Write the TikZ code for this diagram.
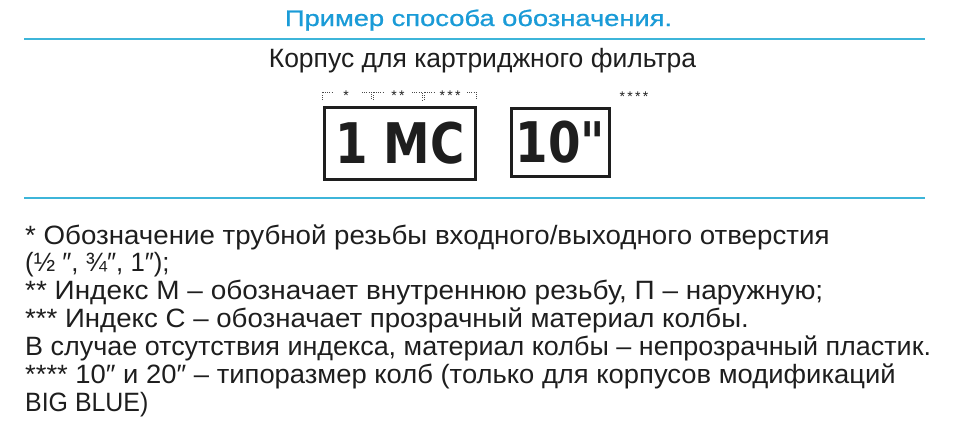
\documentclass[tikz,border=0pt]{standalone}
\usepackage{fontspec}
\usepackage{graphicx}
\setmainfont{Liberation Sans}
\newfontfamily\boxfont{DejaVu Sans}
\newfontfamily\titlefont{Liberation Sans}[FakeBold=0.8]
\newcommand\sxline[2]{\scalebox{#1}[1]{#2}}
\definecolor{titleblue}{HTML}{1A9BD7}
\definecolor{lineblue}{HTML}{3DB5D9}
\definecolor{txt}{HTML}{1E1E1E}
\tikzset{
  blueline/.style={draw=lineblue, line width=2pt},
  codebox/.style={draw=txt, line width=3pt, inner sep=0pt, text=txt,
    font=\boxfont\bfseries\fontsize{56}{58}\selectfont},
  brk/.style={draw=txt!80, line width=1pt, dash pattern=on 1pt off 1.2pt},
  starlbl/.style={text=txt, inner sep=0pt, font=\fontsize{14}{14}\selectfont},
  bodyline/.style={anchor=base west, inner sep=0pt, text=txt, font=\fontsize{26.5}{28}\selectfont},
}
\begin{document}
\begin{tikzpicture}[x=1pt,y=-1pt]
\useasboundingbox (0,0) rectangle (955,447);
\node[anchor=base, inner sep=0pt, text=titleblue, font=\titlefont\fontsize{22.5}{24}\selectfont] (title) at (478.5,26) {\resizebox{387pt}{\height}{Пример способа обозначения.}};
\draw[blueline] (24,39) coordinate (l1a) -- (925,39) coordinate (l1b);
\node[anchor=base, inner sep=0pt, text=txt, font=\fontsize{26.5}{28}\selectfont] (sub) at (482.5,67) {Корпус для картриджного фильтра};
% boxes
\node[codebox, minimum width=151pt, minimum height=72pt] (box1) at (400,143.5) {\scalebox{0.835}[1]{1 MC}};
\node[codebox, minimum width=98pt, minimum height=68pt] (box2) at (560.5,142.5) {\scalebox{0.835}[1]{10"}};
% brackets
\draw[brk] (322,100) -- (322,92) -- (332,92);
\draw[brk] (362,92) -- (371,92) -- (371,100);
\draw[brk] (373,100) -- (373,92) -- (383,92);
\draw[brk] (412,92) -- (422,92) -- (422,100);
\draw[brk] (424,100) -- (424,92) -- (434,92);
\draw[brk] (467,92) -- (476,92) -- (476,100);
\node[starlbl] (s1) at (346,96) {*};
\node[starlbl] (s2) at (398,96) {*\,*};
\node[starlbl] (s3) at (450,96) {*\,*\,*};
\node[starlbl] (s4) at (634,97) {*\,*\,*\,*};
\draw[blueline] (24,198) coordinate (l2a) -- (925,198) coordinate (l2b);
% body
\node[bodyline] (t1) at (25,244) {\sxline{1.045}{* Обозначение трубной резьбы входного/выходного отверстия}};
\node[bodyline] (t2) at (25,271) {\sxline{0.97}{(½ ″, ¾″, 1″);}};
\node[bodyline] (t3) at (25,299) {\sxline{1.055}{** Индекс М – обозначает внутреннюю резьбу, П – наружную;}};
\node[bodyline] (t4) at (25,327) {\sxline{1.043}{*** Индекс С – обозначает прозрачный материал колбы.}};
\node[bodyline] (t5) at (25,355) {\sxline{1.017}{В случае отсутствия индекса, материал колбы – непрозрачный пластик.}};
\node[bodyline] (t6) at (25,383) {\sxline{1.034}{**** 10″ и 20″ – типоразмер колб (только для корпусов модификаций}};
\node[bodyline] (t7) at (25,411) {\sxline{0.94}{BIG BLUE)}};
\end{tikzpicture}
\end{document}
